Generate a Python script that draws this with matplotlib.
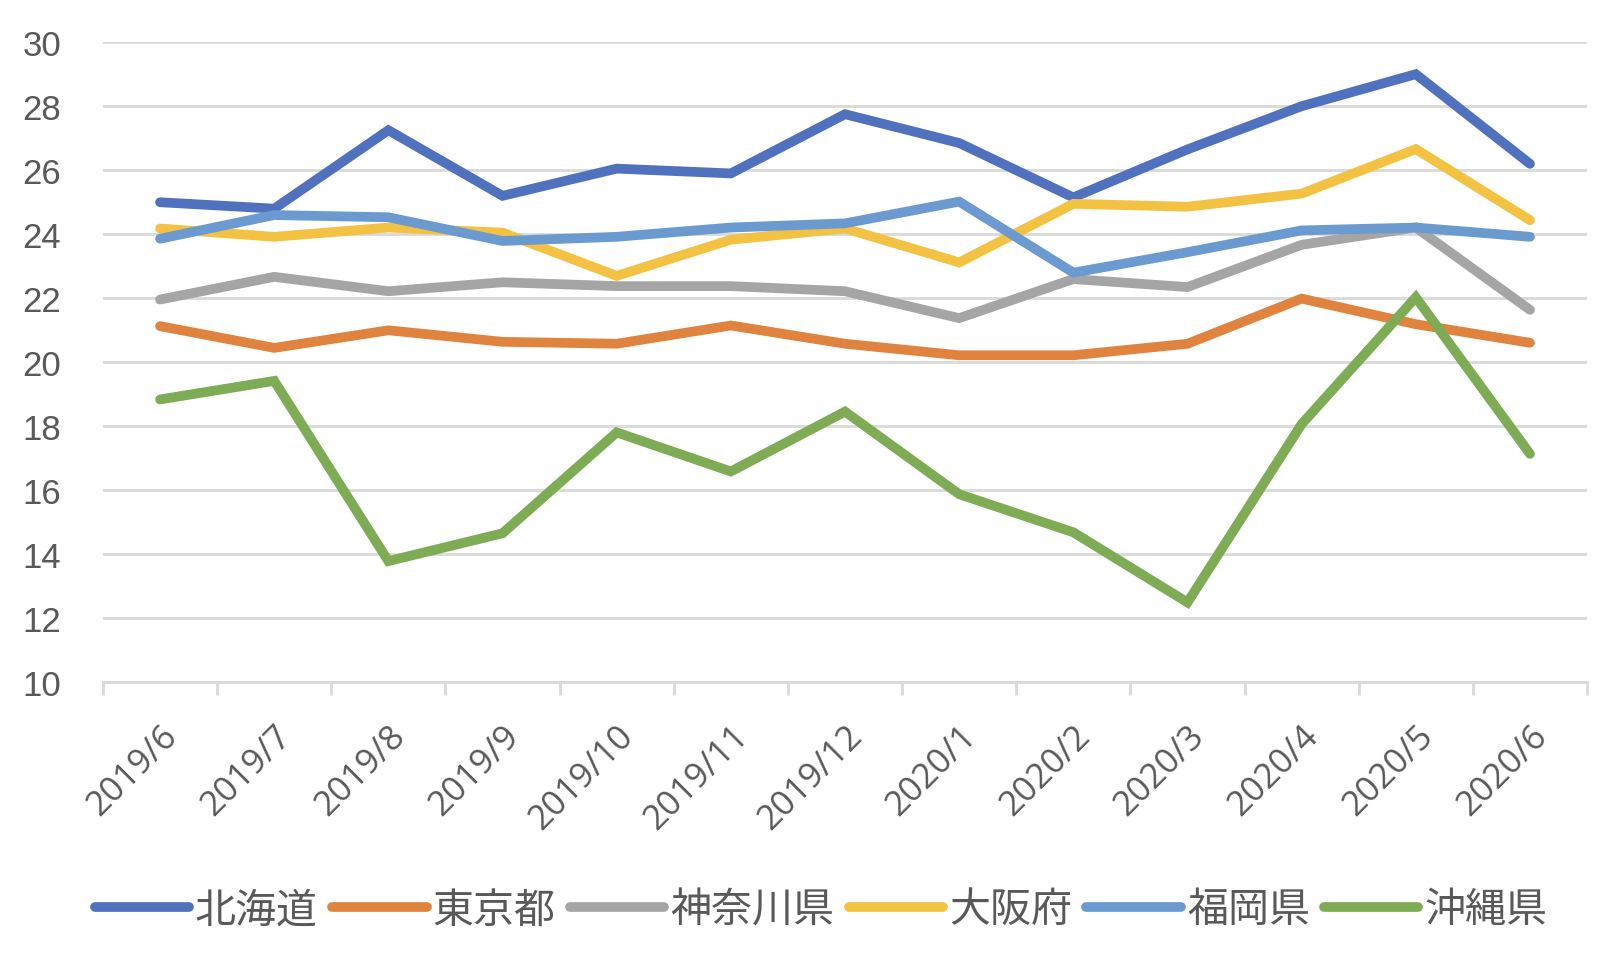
import matplotlib
matplotlib.use("Agg")
import matplotlib.pyplot as plt
from matplotlib.ticker import FixedLocator

months = ["2019/6", "2019/7", "2019/8", "2019/9", "2019/10", "2019/11", "2019/12",
          "2020/1", "2020/2", "2020/3", "2020/4", "2020/5", "2020/6"]

hokkaido = [25.0, 24.8, 27.25, 25.2, 26.05, 25.9, 27.75, 26.85, 25.15, 26.65, 28.0, 29.0, 26.2]
tokyo = [21.13, 20.45, 21.0, 20.64, 20.58, 21.15, 20.58, 20.22, 20.22, 20.58, 21.99, 21.19, 20.61]
kanagawa = [21.96, 22.67, 22.22, 22.5, 22.38, 22.38, 22.22, 21.38, 22.6, 22.35, 23.67, 24.21, 21.64]
osaka = [24.18, 23.92, 24.21, 24.05, 22.7, 23.83, 24.18, 23.12, 24.95, 24.86, 25.27, 26.66, 24.44]
fukuoka = [23.86, 24.6, 24.53, 23.79, 23.92, 24.21, 24.34, 25.02, 22.8, 23.44, 24.12, 24.21, 23.92]
okinawa = [18.84, 19.42, 13.79, 14.66, 17.81, 16.59, 18.46, 15.88, 14.69, 12.5, 18.07, 22.03, 17.14]

names = ["北海道", "東京都", "神奈川県", "大阪府", "福岡県", "沖縄県"]
series = [hokkaido, tokyo, kanagawa, osaka, fukuoka, okinawa]
colors = ["#4F71BE", "#E0833F", "#A5A5A5", "#F4C243", "#6A9AD0", "#7DAC55"]

txt = "#595959"
grid = "#D9D9D9"

fig = plt.figure(figsize=(16.14, 9.70), dpi=100)
ax = fig.add_axes([0.0638, 0.2954, 0.9195, 0.6601])

x = list(range(len(months)))
for vals, name, c in zip(series, names, colors):
    ax.plot(x, vals, color=c, lw=7, label=name, solid_capstyle="round",
            solid_joinstyle="miter")

ax.set_xlim(-0.5, len(months) - 0.5)
ax.set_ylim(10, 30)
ax.set_yticks(range(10, 31, 2))
ax.grid(axis="y", color=grid, lw=2)
ax.set_axisbelow(True)

for s in ["top", "right", "left"]:
    ax.spines[s].set_visible(False)
ax.spines["bottom"].set_color(grid)
ax.spines["bottom"].set_linewidth(2)

# boundary tick marks, labels in the middle of each category
ax.xaxis.set_major_locator(FixedLocator([i - 0.5 for i in range(len(months) + 1)]))
ax.xaxis.set_minor_locator(FixedLocator(x))
ax.set_xticklabels([], minor=False)
ax.set_xticklabels(months, minor=True, rotation=45, ha="right",
                   rotation_mode="anchor", fontsize=25, color=txt, family="Open Sans")
ax.tick_params(axis="x", which="major", length=9, width=2, color=grid, direction="out")
ax.tick_params(axis="x", which="minor", length=0, pad=26)
ax.tick_params(axis="y", length=0, pad=30, labelsize=25, labelcolor=txt)
for t in ax.get_yticklabels():
    t.set_family("Liberation Sans")

leg = fig.legend(loc="center", bbox_to_anchor=(0.5087, 0.061), ncol=6, frameon=False,
                 handlelength=2.3, handletextpad=0.15, columnspacing=0.35,
                 prop={"family": ["Noto Sans CJK JP", "DejaVu Sans"], "size": 29.5})
for t in leg.get_texts():
    t.set_color(txt)

fig.savefig("out.png", dpi=100)
